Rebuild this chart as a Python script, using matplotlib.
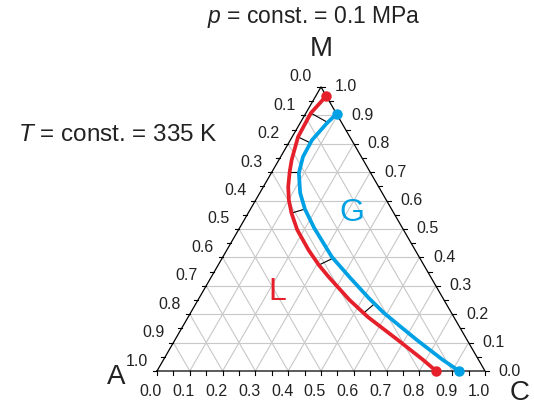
import numpy as np
import matplotlib
matplotlib.use('Agg')
from matplotlib import pyplot as plt

plt.rcParams['font.family'] = ['Liberation Sans', 'DejaVu Sans']
plt.rcParams['mathtext.fontset'] = 'custom'
plt.rcParams['mathtext.rm'] = 'Liberation Sans'
plt.rcParams['mathtext.it'] = 'Liberation Sans:italic'

# liquid branch (red), mole fractions of C and M
liq_C = [0.032, 0.015, 0.018, 0.039, 0.054, 0.076, 0.101, 0.132, 0.179, 0.249, 0.307, 0.358, 0.462, 0.548, 0.680, 0.792, 0.851]
liq_M = [0.968, 0.908, 0.824, 0.743, 0.701, 0.648, 0.602, 0.556, 0.497, 0.426, 0.373, 0.331, 0.250, 0.190, 0.109, 0.039, 0.0]

# vapour branch (blue)
gas_C = [0.095, 0.082, 0.066, 0.068, 0.084, 0.123, 0.166, 0.227, 0.333, 0.425, 0.517, 0.590, 0.738, 0.852, 0.921]
gas_M = [0.905, 0.873, 0.813, 0.754, 0.697, 0.627, 0.570, 0.504, 0.401, 0.328, 0.257, 0.204, 0.109, 0.039, 0.0]

# tie lines: liquid end -> vapour end
tie_L_C = [0.015, 0.018, 0.054, 0.132, 0.307, 0.528]
tie_L_M = [0.908, 0.824, 0.701, 0.556, 0.373, 0.204]
tie_G_C = [0.083, 0.066, 0.083, 0.166, 0.338, 0.545]
tie_G_M = [0.875, 0.803, 0.701, 0.570, 0.397, 0.237]

ticks = [0.0, 0.1, 0.2, 0.3, 0.4, 0.5, 0.6, 0.7, 0.8, 0.9, 1.0]
tick_labels = ['0.0', '0.1', '0.2', '0.3', '0.4', '0.5', '0.6', '0.7', '0.8', '0.9', '1.0']

H = np.sqrt(3) / 2
PX = 1 / 328.0  # one pixel in data units

RED = '#e5202a'
BLUE = '#00a1e4'


def tern(c, m):
    c = np.asarray(c, dtype=float)
    m = np.asarray(m, dtype=float)
    return c + m / 2, m * H


fig = plt.figure(figsize=(5.34, 4.08), dpi=100)
ax = fig.add_axes([0, 0, 1, 1])
ax.set_xlim(-157 * PX, 377 * PX)
ax.set_ylim(-37 * PX, 371 * PX)
ax.axis('off')

# grid
for g in ticks[1:-1]:
    x, y = tern([g, g], [0, 1 - g])
    ax.plot(x, y, color='#c8c8c8', lw=0.8, zorder=1)
    x, y = tern([0, 1 - g], [g, g])
    ax.plot(x, y, color='#c8c8c8', lw=0.8, zorder=1)
    x, y = tern([1 - g, 0], [0, 1 - g])
    ax.plot(x, y, color='#c8c8c8', lw=0.8, zorder=1)

# frame
x, y = tern([0, 1, 0, 0], [0, 0, 1, 0])
ax.plot(x, y, color='black', lw=0.9, zorder=3)

# ticks every 0.05
tl = 4 * PX
for k in range(21):
    f = k * 0.05
    # bottom (C)
    x, y = tern(f, 0)
    ax.plot([x, x], [y, y - tl], color='black', lw=0.8, zorder=3)
    # left (A)
    x, y = tern(0, 1 - f)
    ax.plot([x, x - tl], [y, y], color='black', lw=0.8, zorder=3)
    # right (M)
    x, y = tern(1 - f, f)
    ax.plot([x, x + tl], [y, y], color='black', lw=0.8, zorder=3)

fs = 11.5
for t, lab in zip(ticks, tick_labels):
    x, y = tern(t, 0)
    ax.text(x - 6 * PX, y - 21 * PX, lab, ha='center', va='center', fontsize=fs, color='#222222')
    x, y = tern(0, 1 - t)
    ax.text(x - 20 * PX, y + 10 * PX, lab, ha='center', va='center', fontsize=fs, color='#222222')
    x, y = tern(1 - t, t)
    ax.text(x + 25 * PX, y, lab, ha='center', va='center', fontsize=fs, color='#222222')

# tie lines
for i in range(len(tie_L_C)):
    x, y = tern([tie_L_C[i], tie_G_C[i]], [tie_L_M[i], tie_G_M[i]])
    ax.plot(x, y, color='black', lw=0.8, zorder=2)

# phase boundaries
x, y = tern(liq_C, liq_M)
ax.plot(x, y, color=RED, lw=2.7, solid_joinstyle='round', solid_capstyle='round', zorder=4)
ax.plot([x[0], x[-1]], [y[0], y[-1]], 'o', color=RED, ms=6.5, zorder=5)
x, y = tern(gas_C, gas_M)
ax.plot(x, y, color=BLUE, lw=2.7, solid_joinstyle='round', solid_capstyle='round', zorder=4)
ax.plot([x[0], x[-1]], [y[0], y[-1]], 'o', color=BLUE, ms=6.5, zorder=5)

# labels
ax.text(0.5, 322 * PX, 'M', ha='center', va='center', fontsize=20, color='#222222')
ax.text(-41 * PX, -6 * PX, 'A', ha='center', va='center', fontsize=20, color='#222222')
ax.text(363 * PX, -22 * PX, 'C', ha='center', va='center', fontsize=20, color='#222222')
ax.text(120 * PX, 79 * PX, 'L', ha='center', va='center', fontsize=23, color=RED)
ax.text(195 * PX, 158 * PX, 'G', ha='center', va='center', fontsize=23, color=BLUE)

ax.text(157 * PX, 354 * PX, '$p$ = const. = 0.1 MPa', ha='center', va='center', fontsize=16.5, color='#222222')
ax.text(-139 * PX, 236 * PX, '$T$ = const. = 335 K', ha='left', va='center', fontsize=17.5, color='#222222')

fig.savefig('out.png', dpi=100)
